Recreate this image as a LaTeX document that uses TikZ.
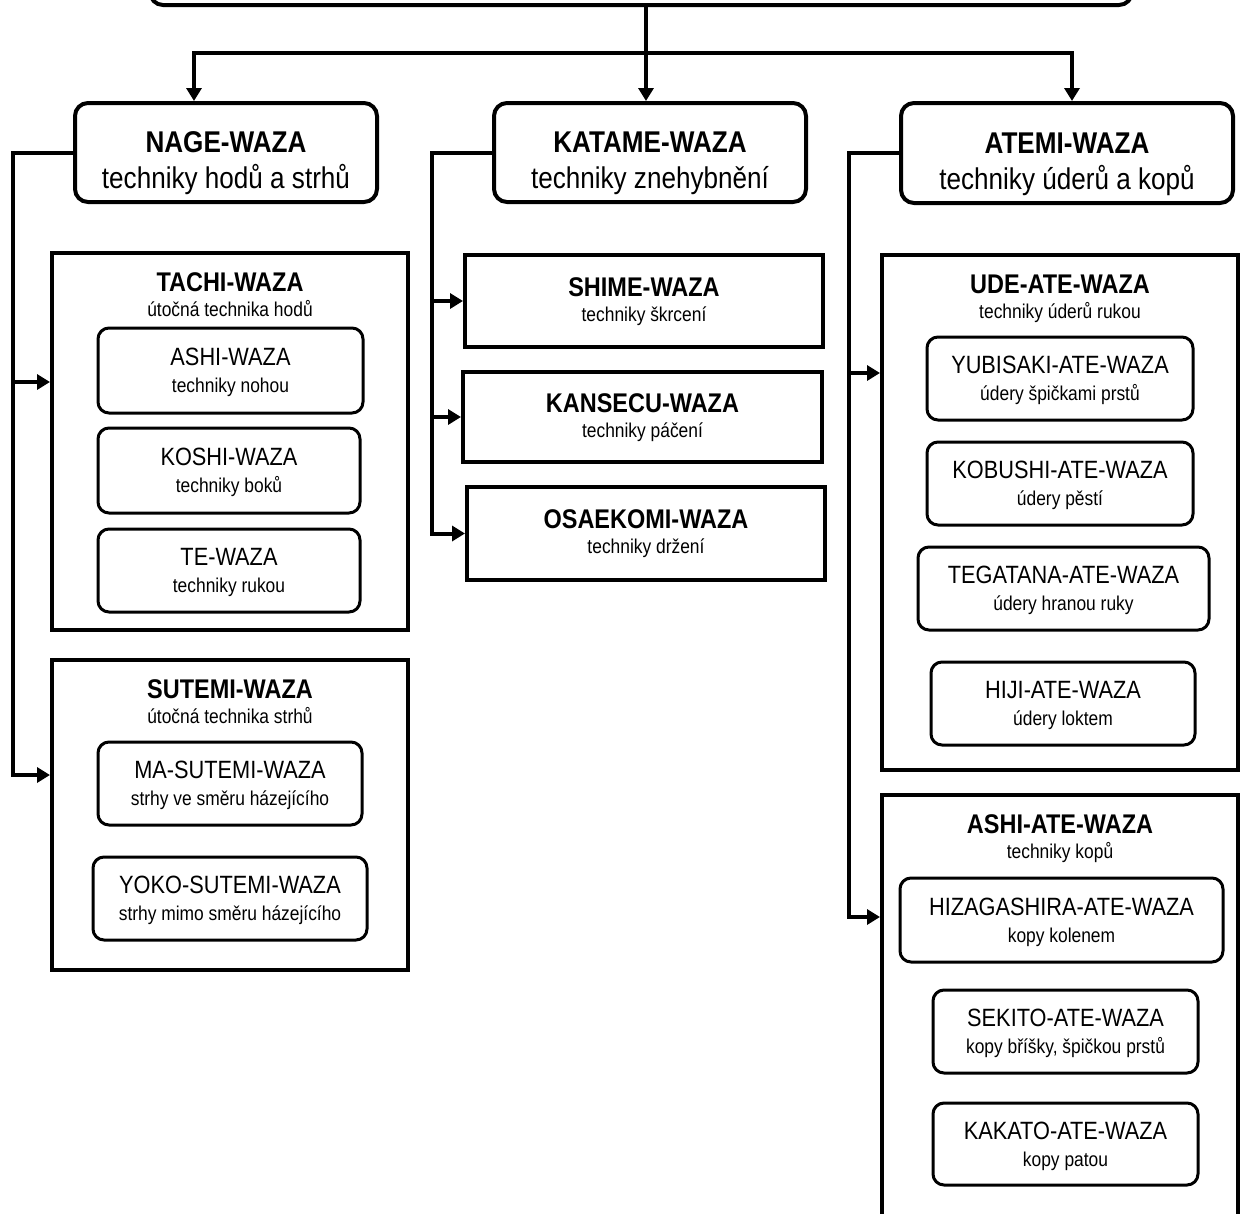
\documentclass[tikz,border=0pt]{standalone}
\usepackage{fontspec}
\setmainfont{Liberation Sans}[FakeStretch=0.87]
\usetikzlibrary{arrows.meta}
\newcommand\szLa{\fontsize{30}{36}\selectfont}
\newcommand\szLb{\fontsize{27}{32}\selectfont}
\newcommand\szLc{\fontsize{20}{24}\selectfont}
\newcommand\szLd{\fontsize{25}{30}\selectfont}
\tikzset{
  l1box/.style={draw, line width=4pt, rounded corners=13pt, inner sep=0pt},
  l2box/.style={draw, line width=4pt, inner sep=0pt},
  ibox/.style={draw, line width=3pt, rounded corners=11pt, inner sep=0pt},
  tt/.style={anchor=base, inner sep=0pt},
  lone/.style={tt, font=\szLa\bfseries},
  lonesub/.style={tt, font=\szLa, yshift=-36pt},
  ltwo/.style={tt, font=\szLb\bfseries, yshift=-40pt},
  ltwosub/.style={tt, font=\szLc, yshift=-65pt},
  shtitle/.style={tt, font=\szLb\bfseries, yshift=5pt},
  shsub/.style={tt, font=\szLc, yshift=-20pt},
  ititle/.style={tt, font=\szLd, yshift=5pt},
  isub/.style={tt, font=\szLc, yshift=-22pt},
  conn/.style={line width=4pt, line join=miter},
  arr/.style={conn, -{Triangle[length=13pt,width=15pt]}},
  arrboth/.style={conn, {Triangle[length=13pt,width=15pt]}-{Triangle[length=13pt,width=15pt]}}
}
\begin{document}
\begin{tikzpicture}[x=1pt,y=-1pt]
\useasboundingbox[fill=white] (0,0) rectangle (1242,1213);

% top box (cut off)
\node[l1box, minimum width=982pt, minimum height=80pt] (top) at (641,-35) {};

% level 1
\node[l1box, minimum width=302pt, minimum height=99pt] (nage) at (226,152.5) {};
\node[lone] (nageT) at (nage.center) {NAGE-WAZA};
\node[lonesub] (nageS) at (nage.center) {techniky hodů a strhů};

\node[l1box, minimum width=312pt, minimum height=99pt] (kat) at (650,152.5) {};
\node[lone] (katT) at (kat.center) {KATAME-WAZA};
\node[lonesub] (katS) at (kat.center) {techniky znehybnění};

\node[l1box, minimum width=332pt, minimum height=100pt] (atemi) at (1067,153) {};
\node[lone] (atemiT) at (atemi.center) {ATEMI-WAZA};
\node[lonesub] (atemiS) at (atemi.center) {techniky úderů a kopů};

% NAGE column
\node[l2box, minimum width=356pt, minimum height=377pt] (tachi) at (230,441.5) {};
\node[ltwo] (tachiT) at (tachi.north) {TACHI-WAZA};
\node[ltwosub] (tachiS) at (tachi.north) {útočná technika hodů};

\node[ibox, minimum width=265pt, minimum height=85pt] (ashiw) at (230.5,370.5) {};
\node[ititle] (ashiwT) at (ashiw.center) {ASHI-WAZA};
\node[isub] (ashiwS) at (ashiw.center) {techniky nohou};

\node[ibox, minimum width=262pt, minimum height=85pt] (koshi) at (229,470.5) {};
\node[ititle] (koshiT) at (koshi.center) {KOSHI-WAZA};
\node[isub] (koshiS) at (koshi.center) {techniky boků};

\node[ibox, minimum width=262pt, minimum height=83pt] (tewaza) at (229,570.5) {};
\node[ititle] (tewazaT) at (tewaza.center) {TE-WAZA};
\node[isub] (tewazaS) at (tewaza.center) {techniky rukou};

\node[l2box, minimum width=356pt, minimum height=310pt] (sutemi) at (230,815) {};
\node[ltwo] (sutemiT) at (sutemi.north) {SUTEMI-WAZA};
\node[ltwosub] (sutemiS) at (sutemi.north) {útočná technika strhů};

\node[ibox, minimum width=264pt, minimum height=83pt] (masut) at (230,783.5) {};
\node[ititle] (masutT) at (masut.center) {MA-SUTEMI-WAZA};
\node[isub] (masutS) at (masut.center) {strhy ve směru házejícího};

\node[ibox, minimum width=274pt, minimum height=83pt] (yoko) at (230,898.5) {};
\node[ititle] (yokoT) at (yoko.center) {YOKO-SUTEMI-WAZA};
\node[isub] (yokoS) at (yoko.center) {strhy mimo směru házejícího};

% KATAME column
\node[l2box, minimum width=358pt, minimum height=92pt] (shime) at (644,301) {};
\node[shtitle] (shimeT) at (shime.center) {SHIME-WAZA};
\node[shsub] (shimeS) at (shime.center) {techniky škrcení};

\node[l2box, minimum width=359pt, minimum height=90pt] (kan) at (642.5,417) {};
\node[shtitle] (kanT) at (kan.center) {KANSECU-WAZA};
\node[shsub] (kanS) at (kan.center) {techniky páčení};

\node[l2box, minimum width=358pt, minimum height=93pt] (osa) at (646,533.5) {};
\node[shtitle] (osaT) at (osa.center) {OSAEKOMI-WAZA};
\node[shsub] (osaS) at (osa.center) {techniky držení};

% ATEMI column
\node[l2box, minimum width=356pt, minimum height=515pt] (ude) at (1060,512.5) {};
\node[ltwo] (udeT) at (ude.north) {UDE-ATE-WAZA};
\node[ltwosub] (udeS) at (ude.north) {techniky úderů rukou};

\node[ibox, minimum width=266pt, minimum height=83pt] (yubi) at (1060,378.5) {};
\node[ititle] (yubiT) at (yubi.center) {YUBISAKI-ATE-WAZA};
\node[isub] (yubiS) at (yubi.center) {údery špičkami prstů};

\node[ibox, minimum width=266pt, minimum height=83pt] (kobu) at (1060,483.5) {};
\node[ititle] (kobuT) at (kobu.center) {KOBUSHI-ATE-WAZA};
\node[isub] (kobuS) at (kobu.center) {údery pěstí};

\node[ibox, minimum width=291pt, minimum height=83pt] (tega) at (1063.5,588.5) {};
\node[ititle] (tegaT) at (tega.center) {TEGATANA-ATE-WAZA};
\node[isub] (tegaS) at (tega.center) {údery hranou ruky};

\node[ibox, minimum width=264pt, minimum height=83pt] (hiji) at (1063,703.5) {};
\node[ititle] (hijiT) at (hiji.center) {HIJI-ATE-WAZA};
\node[isub] (hijiS) at (hiji.center) {údery loktem};

\node[l2box, minimum width=356pt, minimum height=465pt] (ashiate) at (1060,1027.5) {};
\node[ltwo] (ashiateT) at (ashiate.north) {ASHI-ATE-WAZA};
\node[ltwosub] (ashiateS) at (ashiate.north) {techniky kopů};

\node[ibox, minimum width=323pt, minimum height=84pt] (hiza) at (1061.5,920) {};
\node[ititle] (hizaT) at (hiza.center) {HIZAGASHIRA-ATE-WAZA};
\node[isub] (hizaS) at (hiza.center) {kopy kolenem};

\node[ibox, minimum width=265pt, minimum height=83pt] (seki) at (1065.5,1031.5) {};
\node[ititle] (sekiT) at (seki.center) {SEKITO-ATE-WAZA};
\node[isub] (sekiS) at (seki.center) {kopy bříšky, špičkou prstů};

\node[ibox, minimum width=265pt, minimum height=82pt] (kaka) at (1065.5,1144) {};
\node[ititle] (kakaT) at (kaka.center) {KAKATO-ATE-WAZA};
\node[isub] (kakaS) at (kaka.center) {kopy patou};

% connectors from top
\coordinate (jc) at (646,53);
\coordinate (jl) at (194,53);
\coordinate (jr) at (1072,53);
\draw[arr] (top.south -| jc) -- (kat.north -| jc);
\draw[arrboth] (nage.north -| jl) -- (jl) -- (jr) -- (atemi.north -| jr);

% NAGE trunk
\coordinate (ta) at (13,382);
\coordinate (sa) at (13,775);
\draw[arr] (nage.west) -| (sa) -- (sutemi.west |- sa);
\draw[arr] (ta) -- (tachi.west |- ta);

% KATAME trunk
\coordinate (kx) at (432,0);
\draw[arr] (kat.west) -| (kx |- osa.west) -- (osa.west);
\draw[arr] (kx |- shime.west) -- (shime.west);
\draw[arr] (kx |- kan.west) -- (kan.west);

% ATEMI trunk
\coordinate (aa) at (849,917);
\coordinate (au) at (849,373);
\draw[arr] (atemi.west) -| (aa) -- (ashiate.west |- aa);
\draw[arr] (au) -- (ude.west |- au);
\end{tikzpicture}
\end{document}
